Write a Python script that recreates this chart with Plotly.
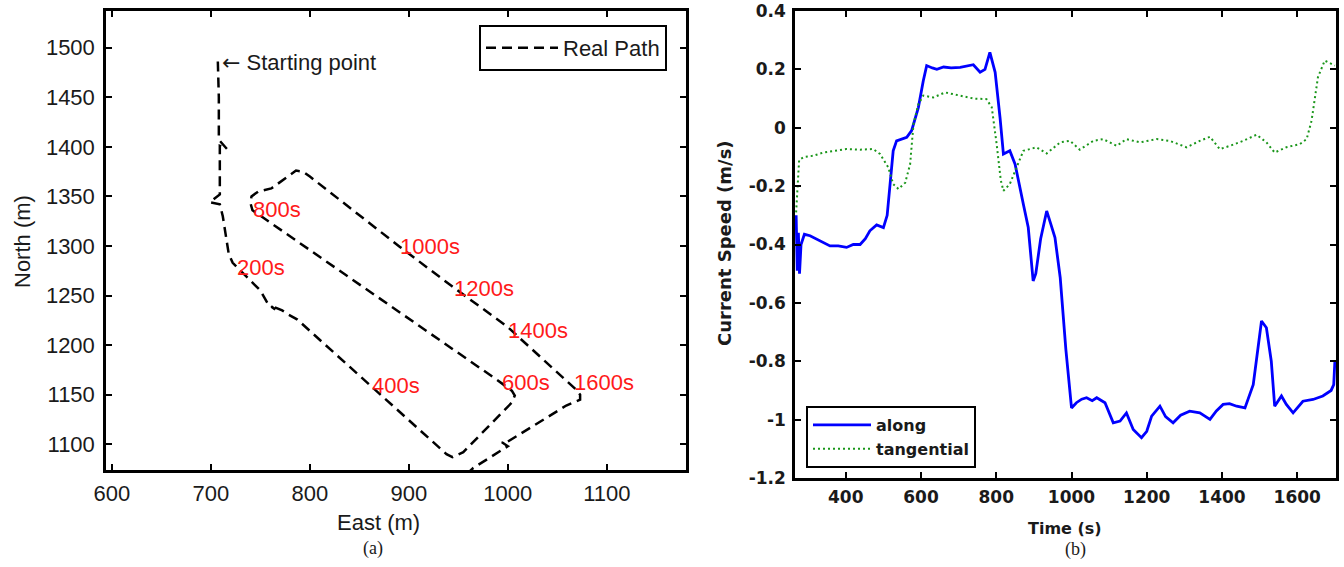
import plotly.graph_objects as go

# ---- (a) vehicle track in local East/North coordinates ----
path_east = [707, 708, 708, 709, 716, 709, 709, 709, 699, 709, 712, 716, 718, 722, 735,
             750, 758, 765, 760, 772, 778, 787, 864, 938, 944, 955, 1004, 1007, 1004,
             989, 742, 740, 741, 748, 761, 786, 793, 800, 891, 944, 999, 1069, 1073,
             1073, 1059, 999, 994, 1000, 965, 950]
path_north = [1486, 1450, 1410, 1406, 1398, 1401, 1380, 1352, 1344, 1342, 1330, 1305,
              1292, 1283, 1270, 1255, 1241, 1236, 1240, 1235, 1231, 1226, 1157, 1090,
              1087, 1092, 1142, 1149, 1154, 1165, 1336, 1343, 1350, 1355, 1358, 1376,
              1375, 1370, 1299, 1259, 1219, 1155, 1150, 1145, 1139, 1102, 1102, 1098,
              1076, 1062]

time_label_text = ["200s", "400s", "600s", "800s", "1000s", "1200s", "1400s", "1600s"]
time_label_east = [724, 861, 992, 741, 889, 944, 998, 1065]
time_label_north = [1278, 1159, 1162, 1337, 1299, 1257, 1215, 1162]

start_east, start_north = 709, 1485

a_xticks = [600, 700, 800, 900, 1000, 1100]
a_yticks = [1100, 1150, 1200, 1250, 1300, 1350, 1400, 1450, 1500]

# ---- (b) current speed components ----
t_along = [268, 271, 274, 277, 281, 290, 305, 320, 340, 358, 380, 402, 420, 438, 452, 464,
           482, 500, 510, 518, 526, 535, 549, 562, 575, 593, 606, 615, 630, 642, 660, 680,
           704, 720, 739, 757, 770, 783, 797, 810, 819, 836, 850, 872, 885, 898, 905, 918,
           934, 945, 956, 970, 985, 1000, 1013, 1027, 1040, 1055, 1067, 1089, 1111, 1129,
           1146, 1164, 1186, 1200, 1213, 1235, 1250, 1270, 1290, 1314, 1341, 1368, 1385,
           1403, 1420, 1439, 1461, 1483, 1495, 1505, 1518, 1531, 1540, 1558, 1571, 1589,
           1615, 1642, 1668, 1690, 1697, 1700]
v_along = [-0.30, -0.49, -0.36, -0.50, -0.40, -0.365, -0.37, -0.38, -0.395, -0.405, -0.405,
           -0.41, -0.40, -0.40, -0.38, -0.353, -0.333, -0.342, -0.30, -0.20, -0.079, -0.045,
           -0.039, -0.033, -0.01, 0.07, 0.161, 0.213, 0.205, 0.20, 0.208, 0.205, 0.207,
           0.212, 0.216, 0.19, 0.20, 0.258, 0.19, 0.035, -0.09, -0.079, -0.125, -0.262,
           -0.342, -0.525, -0.50, -0.38, -0.285, -0.33, -0.376, -0.514, -0.76, -0.96,
           -0.942, -0.93, -0.925, -0.935, -0.925, -0.942, -1.011, -1.005, -0.977, -1.034,
           -1.062, -1.04, -0.988, -0.954, -0.99, -1.011, -0.985, -0.971, -0.977, -0.999,
           -0.97, -0.948, -0.945, -0.954, -0.96, -0.88, -0.75, -0.662, -0.685, -0.80,
           -0.954, -0.919, -0.948, -0.977, -0.937, -0.931, -0.919, -0.90, -0.88, -0.80]

t_tang = [268, 271, 276, 290, 314, 340, 367, 402, 438, 473, 491, 513, 526, 540, 558, 571,
          580, 593, 606, 633, 664, 704, 740, 774, 788, 801, 812, 819, 836, 854, 872, 907,
          934, 970, 996, 1022, 1058, 1084, 1120, 1146, 1182, 1226, 1261, 1306, 1341, 1368,
          1394, 1421, 1456, 1492, 1518, 1540, 1571, 1607, 1625, 1638, 1655, 1673, 1691, 1700]
v_tang = [-0.29, -0.20, -0.11, -0.10, -0.096, -0.085, -0.079, -0.073, -0.075, -0.073, -0.09,
          -0.136, -0.193, -0.21, -0.188, -0.125, 0.013, 0.081, 0.11, 0.104, 0.121, 0.11,
          0.10, 0.098, 0.07, -0.056, -0.18, -0.216, -0.193, -0.136, -0.079, -0.067, -0.088,
          -0.05, -0.045, -0.075, -0.045, -0.039, -0.062, -0.039, -0.05, -0.039, -0.045,
          -0.067, -0.045, -0.031, -0.073, -0.062, -0.045, -0.024, -0.05, -0.085, -0.067,
          -0.056, -0.039, 0.024, 0.173, 0.23, 0.219, 0.213]

b_xticks = [400, 600, 800, 1000, 1200, 1400, 1600]
b_yticks = [0.4, 0.2, 0, -0.2, -0.4, -0.6, -0.8, -1, -1.2]
b_yticklabels = ["0.4", "0.2", "0", "-0.2", "-0.4", "-0.6", "-0.8", "-1", "-1.2"]

W, H = 1344, 567
SANS = "Liberation Sans, Arial, sans-serif"
BOLD = "DejaVu Sans, sans-serif"
SERIF = "Liberation Serif, Times New Roman, serif"
INK = "#1a1a1a"


def px_x(p):
    return p / W


def px_y(p):
    return 1 - p / H


fig = go.Figure()

fig.add_trace(go.Scatter(
    x=path_east, y=path_north, mode="lines", name="Real Path",
    line=dict(color="black", width=2.5, dash="10px,6px"),
    xaxis="x", yaxis="y", legend="legend",
))

fig.add_trace(go.Scatter(
    x=t_along, y=v_along, mode="lines", name="along",
    line=dict(color="#0000ff", width=2.8),
    xaxis="x2", yaxis="y2", legend="legend2",
))
fig.add_trace(go.Scatter(
    x=t_tang, y=v_tang, mode="lines", name="tangential",
    line=dict(color="#1a961a", width=2, dash="2px,3px"),
    xaxis="x2", yaxis="y2", legend="legend2",
))

frame = dict(showline=True, linecolor="black", mirror="ticks", ticks="inside",
             ticklen=6, tickwidth=2, tickcolor="black", showgrid=False, zeroline=False,
             linewidth=2.5, automargin=False)
font_a = dict(family=SANS, size=22, color=INK)
font_b = dict(family=BOLD, size=17, color=INK, weight="bold")

annotations = []
for txt, ex, ny in zip(time_label_text, time_label_east, time_label_north):
    annotations.append(dict(x=ex, y=ny, xref="x", yref="y", text=txt, showarrow=False,
                            xanchor="left", yanchor="middle",
                            font=dict(family=SANS, size=22, color="#ff1a1a")))
annotations.append(dict(x=start_east, y=start_north, xref="x", yref="y",
                        text="<span style='font-family:DejaVu Sans'>\u2190</span> Starting point",
                        showarrow=False, xanchor="left", yanchor="middle", font=font_a))

# axis titles and panel captions
cap = dict(xref="paper", yref="paper", showarrow=False, xanchor="center", yanchor="middle")
annotations += [
    dict(x=px_x(22), y=px_y(242), text="North (m)", textangle=-90, font=font_a, **cap),
    dict(x=px_x(378), y=px_y(522), text="East (m)", font=font_a, **cap),
    dict(x=px_x(373), y=px_y(548), text="(a)",
         font=dict(family=SERIF, size=18, color=INK), **cap),
    dict(x=px_x(724), y=px_y(243), text="Current Speed (m/s)", textangle=-90,
         font=dict(family=BOLD, size=18, color=INK, weight="bold"), **cap),
    dict(x=px_x(1065), y=px_y(528), text="Time (s)",
         font=dict(family=BOLD, size=16, color=INK, weight="bold"), **cap),
    dict(x=px_x(1075), y=px_y(549), text="(b)",
         font=dict(family=SERIF, size=18, color=INK), **cap),
]

fig.update_layout(
    width=W, height=H, autosize=False,
    margin=dict(l=0, r=0, t=0, b=0, pad=0, autoexpand=False),
    paper_bgcolor="white", plot_bgcolor="white",
    xaxis=dict(domain=[px_x(106), px_x(686)], range=[594, 1180], anchor="y",
               tickvals=a_xticks, ticklabelstandoff=2, tickfont=font_a, **frame),
    yaxis=dict(domain=[px_y(470), px_y(11)], range=[1074, 1537], anchor="x",
               tickvals=a_yticks, ticklabelstandoff=4, tickfont=font_a, **frame),
    xaxis2=dict(domain=[px_x(795), px_x(1336)], range=[265, 1703], anchor="y2",
                tickvals=b_xticks, ticklabelstandoff=2, tickfont=font_b, **frame),
    yaxis2=dict(domain=[px_y(478), px_y(11)], range=[-1.2, 0.4], anchor="x2",
                tickvals=b_yticks, ticktext=b_yticklabels, ticklabelstandoff=3,
                tickfont=font_b, ticklabeloverflow="allow", **frame),
    legend=dict(x=px_x(667), y=px_y(25), xanchor="right", yanchor="top",
                bordercolor="black", borderwidth=2, bgcolor="white",
                font=font_a, itemwidth=72),
    legend2=dict(x=px_x(806), y=px_y(468), xanchor="left", yanchor="bottom",
                 bordercolor="black", borderwidth=2, bgcolor="white",
                 font=dict(family=BOLD, size=16, color=INK, weight="bold"), itemwidth=58,
                 tracegroupgap=0),
    annotations=annotations,
    showlegend=True,
)

fig.write_html("out.html")
